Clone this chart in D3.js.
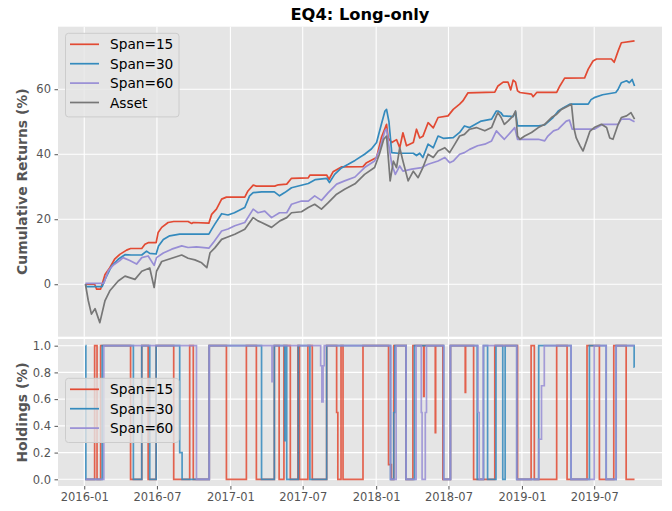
<!DOCTYPE html>
<html>
<head>
<meta charset="utf-8">
<script src="https://cdn.jsdelivr.net/npm/d3@7"></script>
<style>
  body { margin: 0; background: #fff; }
  svg { display: block; font-family: "DejaVu Sans", sans-serif; }
</style>
</head>
<body>
<div id="chart"></div>
<script>
// cumulative returns (%), [date, value]
const span15Returns = [
  ["2016-01-04",0],["2016-01-27",0],["2016-02-01",-1.5],["2016-02-11",-1.5],["2016-02-22",3],["2016-03-05",5.1],
  ["2016-03-17",7.7],["2016-03-30",9.2],["2016-04-16",10.5],["2016-04-26",11],["2016-05-24",11],["2016-06-01",12.3],
  ["2016-06-09",12.8],["2016-06-29",12.8],["2016-07-04",15.9],["2016-07-13",17.5],["2016-07-29",19],["2016-08-12",19.3],
  ["2016-09-17",19.3],["2016-09-26",18.7],["2016-09-30",19],["2016-11-08",18.8],["2016-11-15",21.5],["2016-11-27",23.1],
  ["2016-12-10",26.2],["2016-12-22",26.8],["2017-02-06",26.8],["2017-02-14",28.7],["2017-02-27",30.5],["2017-03-07",30.2],
  ["2017-04-22",30.2],["2017-05-01",30.6],["2017-05-22",30.8],["2017-06-03",32.6],["2017-07-15",32.7],["2017-07-19",33.6],
  ["2017-08-30",33.6],["2017-09-05",32.3],["2017-09-15",34.6],["2017-10-06",36.1],["2017-11-29",36.2],["2017-12-08",37.4],
  ["2018-01-02",39],["2018-01-14",45.1],["2018-01-27",49.2],["2018-01-31",45],["2018-02-09",43.6],["2018-02-21",44.5],
  ["2018-03-01",42],["2018-03-09",46.6],["2018-03-18",42.6],["2018-04-04",43.6],["2018-04-12",47.7],["2018-04-20",45],
  ["2018-04-28",45.5],["2018-05-11",49.7],["2018-05-24",48.1],["2018-06-05",51.3],["2018-06-30",51.8],["2018-07-13",53.8],
  ["2018-07-29",55.4],["2018-08-06",56.4],["2018-08-19",58.9],["2018-10-25",59.1],["2018-11-02",61],["2018-11-15",62.2],
  ["2018-11-27",62.2],["2018-12-04",59.8],["2018-12-10",62.8],["2018-12-16",62.2],["2018-12-21",59.5],["2018-12-27",59],
  ["2019-01-25",58.5],["2019-01-29",57.7],["2019-02-07",59],["2019-03-29",59],["2019-04-06",61],["2019-04-18",63.4],
  ["2019-06-07",63.5],["2019-06-16",66.2],["2019-06-28",68.7],["2019-07-07",69.3],["2019-08-13",69.3],["2019-08-20",68.3],
  ["2019-08-30",71.8],["2019-09-07",74.3],["2019-10-10",74.9]
];
const span30Returns = [
  ["2016-01-04",0],["2016-01-06",-0.7],["2016-02-15",-0.7],["2016-02-22",1.5],["2016-03-09",5.5],["2016-03-26",7.7],
  ["2016-04-12",9.1],["2016-04-28",9],["2016-05-24",9],["2016-06-05",10.2],["2016-06-13",9.5],["2016-06-29",9.3],
  ["2016-07-05",11.8],["2016-07-17",13.8],["2016-08-02",14.9],["2016-08-27",15.4],["2016-11-08",15.4],["2016-11-15",16.9],
  ["2016-11-23",18.5],["2016-12-10",21.7],["2016-12-26",21.3],["2017-01-11",22],["2017-02-06",23.6],["2017-02-18",27.2],
  ["2017-02-27",28.2],["2017-03-20",28.4],["2017-04-21",28.4],["2017-05-04",27.2],["2017-05-17",28.2],["2017-06-03",29.7],
  ["2017-07-15",31],["2017-08-02",32.2],["2017-08-30",32.6],["2017-09-06",31.3],["2017-09-19",33.8],["2017-10-06",35.8],
  ["2017-10-23",36.9],["2017-11-09",38.1],["2017-12-03",40],["2017-12-20",41.6],["2018-01-02",43.6],["2018-01-14",49.2],
  ["2018-01-23",53.3],["2018-01-27",53.8],["2018-02-02",50],["2018-02-09",40.5],["2018-02-25",40.3],["2018-04-04",40.3],
  ["2018-04-12",39.6],["2018-04-20",40.3],["2018-04-28",39],["2018-05-11",43.1],["2018-05-24",42],["2018-06-05",45.6],
  ["2018-06-18",44.9],["2018-07-13",45.1],["2018-07-29",46.7],["2018-08-10",48.7],["2018-08-23",48.2],["2018-09-21",50.2],
  ["2018-10-17",50.8],["2018-10-29",53.3],["2018-11-02",53.3],["2018-11-09",52.8],["2018-11-15",51.8],["2018-12-10",51.6],
  ["2018-12-16",53],["2018-12-21",48.7],["2019-02-11",48.7],["2019-02-27",49],["2019-03-20",51.3],["2019-04-02",53.3],
  ["2019-04-14",54.2],["2019-05-01",55.4],["2019-06-16",55.4],["2019-06-23",56.8],["2019-07-01",57.4],["2019-07-22",58.3],
  ["2019-08-24",59],["2019-08-30",60],["2019-09-07",62],["2019-09-20",62.6],["2019-09-27",62],["2019-10-04",63],
  ["2019-10-10",61]
];
const span60Returns = [
  ["2016-01-04",0.3],["2016-02-19",0.3],["2016-03-01",4.1],["2016-03-13",5.8],["2016-03-30",7.3],["2016-04-07",8.2],
  ["2016-04-24",7.3],["2016-05-11",6.2],["2016-05-24",8.2],["2016-06-09",8.7],["2016-06-24",5.8],["2016-06-30",8.2],
  ["2016-07-17",9.6],["2016-08-07",10.8],["2016-09-01",11.8],["2016-09-17",11.3],["2016-10-08",11.5],["2016-11-08",11.1],
  ["2016-11-19",12.8],["2016-12-10",16.4],["2016-12-26",17],["2017-01-12",18],["2017-02-06",19],["2017-02-27",23.1],
  ["2017-03-11",22],["2017-03-28",22.5],["2017-04-14",20.5],["2017-05-04",22],["2017-05-22",22],["2017-06-03",24.6],
  ["2017-06-28",25.6],["2017-07-15",25.6],["2017-07-31",27.2],["2017-08-17",25.8],["2017-09-03",28.2],["2017-09-24",30.8],
  ["2017-10-14",31.8],["2017-11-09",33],["2017-12-03",35.9],["2017-12-28",37.9],["2018-01-10",41.6],["2018-01-23",47.2],
  ["2018-01-27",47.7],["2018-02-02",42.5],["2018-02-09",36.9],["2018-02-18",33.8],["2018-03-01",36.4],["2018-03-09",34.8],
  ["2018-03-31",35.4],["2018-04-25",35.9],["2018-05-11",36.9],["2018-06-05",37.9],["2018-06-22",39],["2018-07-04",37.4],
  ["2018-07-13",37.9],["2018-07-29",40],["2018-08-10",40.5],["2018-08-23",41.5],["2018-09-12",42.6],["2018-09-30",43.1],
  ["2018-10-17",44.1],["2018-10-29",47.2],["2018-11-06",46.1],["2018-11-18",44.6],["2018-12-14",48.2],["2018-12-21",44.6],
  ["2019-02-11",44.6],["2019-02-27",44.1],["2019-03-07",45.6],["2019-03-21",47.2],["2019-04-02",47.7],["2019-04-10",48.7],
  ["2019-04-22",50.2],["2019-04-30",50.5],["2019-05-07",47.7],["2019-07-01",47.7],["2019-07-22",49.2],["2019-08-30",49.2],
  ["2019-09-07",50.8],["2019-09-28",50.8],["2019-10-10",50]
];
const assetReturns = [
  ["2016-01-04",0],["2016-01-11",-5],["2016-01-19",-9.2],["2016-01-28",-7.5],["2016-02-09",-11.8],["2016-02-22",-5],
  ["2016-03-05",-2],["2016-03-26",1],["2016-04-12",2.5],["2016-05-07",1.5],["2016-05-24",4],["2016-06-13",5],
  ["2016-06-24",-1],["2016-06-30",4],["2016-07-13",7],["2016-08-07",8],["2016-09-01",9],["2016-09-17",8],
  ["2016-10-04",7.5],["2016-10-21",6.6],["2016-11-03",5.1],["2016-11-11",9.7],["2016-11-23",11.2],["2016-12-10",13.8],
  ["2016-12-22",14.4],["2017-01-12",15.4],["2017-02-06",16.9],["2017-02-27",20.5],["2017-03-11",19.5],["2017-03-20",19],
  ["2017-04-14",17.5],["2017-05-05",19.5],["2017-05-22",20.5],["2017-06-03",22],["2017-06-28",22.3],["2017-07-15",23.6],
  ["2017-07-31",24.6],["2017-08-17",23.1],["2017-09-03",25.1],["2017-09-24",27.7],["2017-10-14",29.2],["2017-11-09",30.9],
  ["2017-12-03",33.8],["2017-12-28",35.9],["2018-01-09",40],["2018-01-20",44.6],["2018-01-27",45.6],["2018-02-05",31.8],
  ["2018-02-13",37.9],["2018-02-21",35.9],["2018-03-01",42],["2018-03-09",37.9],["2018-03-22",31.8],["2018-04-04",34.8],
  ["2018-04-16",32.8],["2018-04-28",35.9],["2018-05-11",40],["2018-05-24",39],["2018-06-05",41],["2018-06-22",42],
  ["2018-07-04",40.5],["2018-07-17",43.1],["2018-07-29",45.6],["2018-08-10",46.1],["2018-08-23",47.7],["2018-09-09",48.2],
  ["2018-09-30",47.2],["2018-10-17",48.2],["2018-10-29",51.8],["2018-11-02",52.8],["2018-11-10",51.3],["2018-11-18",49.2],
  ["2018-11-27",50.2],["2018-12-10",51.8],["2018-12-16",53.3],["2018-12-21",45.6],["2018-12-27",44.6],["2019-01-08",45.6],
  ["2019-01-25",46.7],["2019-02-11",48.2],["2019-02-27",49.2],["2019-03-16",51.3],["2019-03-29",52.3],["2019-04-10",53.8],
  ["2019-04-23",54.6],["2019-05-05",55.4],["2019-05-11",48.2],["2019-05-17",45],["2019-05-27",42.5],["2019-06-03",41],
  ["2019-06-12",44.1],["2019-06-20",47],["2019-07-01",48.2],["2019-07-19",49.2],["2019-08-01",48.2],["2019-08-09",45],
  ["2019-08-17",44.6],["2019-08-30",49.2],["2019-09-07",51.3],["2019-09-20",51.8],["2019-10-01",52.8],["2019-10-10",50.8]
];

// holdings: value held from that date until the next entry
const span15Holdings = [
  ["2016-01-04",0],["2016-01-27",1],["2016-02-02",0],["2016-02-11",1],["2016-04-26",0],["2016-05-24",1],
  ["2016-06-09",0],["2016-06-29",1],["2016-08-12",0],["2016-09-21",1],["2016-09-30",0],["2016-11-09",1],
  ["2016-12-22",0],["2017-02-10",1],["2017-03-07",0],["2017-04-21",1],["2017-05-03",0],["2017-05-15",1],
  ["2017-05-31",0],["2017-06-19",1],["2017-06-23",0],["2017-07-14",1],["2017-07-25",0],["2017-08-30",1],
  ["2017-09-24",0.5],["2017-09-27",0],["2017-10-05",1],["2017-10-10",0],["2017-11-29",1],["2018-02-01",0.11],
  ["2018-02-08",0],["2018-02-14",1],["2018-03-17",0],["2018-04-03",1],["2018-04-30",0.62],["2018-05-01",1],
  ["2018-05-29",0.35],["2018-05-30",1],["2018-06-17",0],["2018-07-06",1],["2018-08-12",0.65],["2018-08-13",1],
  ["2018-09-02",0],["2018-10-25",1],["2018-12-21",0],["2019-01-24",1],["2019-02-01",0],["2019-03-29",1],
  ["2019-04-24",0],["2019-06-13",1],["2019-07-14",0],["2019-08-19",1],["2019-09-19",0],["2019-10-10",0]
];
const span30Holdings = [
  ["2016-01-04",1],["2016-01-05",0],["2016-02-15",1],["2016-05-03",0],["2016-05-24",1],["2016-06-13",0],
  ["2016-06-29",1],["2016-08-27",0.2],["2016-09-02",0],["2016-11-09",1],["2017-03-20",0],["2017-04-21",1],
  ["2017-05-17",0.29],["2017-05-18",1],["2017-05-22",0],["2017-06-20",1],["2017-07-19",0],["2017-08-30",1],
  ["2018-02-06",0],["2018-02-14",0.5],["2018-02-17",1],["2018-03-17",0],["2018-04-07",1],["2018-06-19",0],
  ["2018-07-06",1],["2018-09-11",0],["2018-09-27",1],["2018-10-07",0],["2018-10-28",1],["2018-11-14",0],
  ["2018-11-20",1],["2018-12-19",0],["2019-02-12",1],["2019-05-04",0],["2019-06-19",1],["2019-07-31",0],
  ["2019-08-25",1],["2019-10-09",0.84],["2019-10-10",0.84]
];
const span60Holdings = [
  ["2016-01-04",0],["2016-02-19",1],["2016-10-08",0],["2016-11-09",1],["2017-04-15",0.73],["2017-04-16",1],
  ["2017-08-15",0.85],["2017-08-18",0.58],["2017-08-21",0.85],["2017-08-24",1],["2018-02-06",0],["2018-02-20",1],
  ["2018-03-17",0],["2018-04-11",1],["2018-04-24",0.5],["2018-04-26",0],["2018-05-04",0.5],["2018-05-07",1],
  ["2018-06-19",0],["2018-07-06",1],["2018-09-13",0.5],["2018-09-16",0],["2018-09-26",1],["2018-12-19",0],
  ["2019-02-12",0.3],["2019-02-19",0.7],["2019-02-26",1],["2019-05-04",0],["2019-07-01",1],["2019-07-31",0],
  ["2019-08-25",1],["2019-10-10",1]
];

const returnNames = ["Span=15", "Span=30", "Span=60", "Asset"];
const holdingNames = ["Span=15", "Span=30", "Span=60"];
const colors = ["#E24A33", "#348ABD", "#988ED5", "#777777"];
const returnTicks = [0, 20, 40, 60];
const holdingTicks = [0, 0.2, 0.4, 0.6, 0.8, 1.0];
const dateTicks = ["2016-01-01", "2016-07-01", "2017-01-01", "2017-07-01",
                   "2018-01-01", "2018-07-01", "2019-01-01", "2019-07-01"];

const parse = d3.timeParse("%Y-%m-%d");
const toPoints = arr => arr.map(([d, v]) => ({ date: parse(d), value: v }));

const returnSeries = [span15Returns, span30Returns, span60Returns, assetReturns].map(toPoints);
const holdingSeries = [span15Holdings, span30Holdings, span60Holdings].map(toPoints);

const width = 672, height = 511;
const left = 58, right = 662;
const top1 = 26.7, bottom1 = 336.7;
const top2 = 339, bottom2 = 486;
const fontSize = 11.5;

const svg = d3.select("#chart").append("svg")
    .attr("width", width)
    .attr("height", height);

// matplotlib style 5% margins
function padded(extent) {
    const span = extent[1] - extent[0];
    return [extent[0] - span * 0.05, extent[1] + span * 0.05];
}

const allDates = returnSeries.flat().map(d => d.date);
const dateExtent = d3.extent(allDates);
const x = d3.scaleTime()
    .domain(padded(dateExtent.map(Number)).map(t => new Date(t)))
    .range([left, right]);

const yTop = d3.scaleLinear()
    .domain(padded(d3.extent(returnSeries.flat(), d => d.value)))
    .range([bottom1, top1]);

const yBottom = d3.scaleLinear()
    .domain(padded(d3.extent(holdingSeries.flat(), d => d.value)))
    .range([bottom2, top2]);

const tickDates = dateTicks.map(parse);

function drawPanel(y, yTicks, yTop_, yBot, clipId, tickFormat) {
    const g = svg.append("g");
    g.append("rect")
        .attr("x", left).attr("y", yTop_)
        .attr("width", right - left).attr("height", yBot - yTop_)
        .attr("fill", "#E5E5E5");

    // grid
    g.selectAll(".vgrid").data(tickDates).enter().append("line")
        .attr("x1", d => x(d)).attr("x2", d => x(d))
        .attr("y1", yTop_).attr("y2", yBot)
        .attr("stroke", "#fff").attr("stroke-width", 1.1);
    g.selectAll(".hgrid").data(yTicks).enter().append("line")
        .attr("x1", left).attr("x2", right)
        .attr("y1", d => y(d)).attr("y2", d => y(d))
        .attr("stroke", "#fff").attr("stroke-width", 1.1);

    // y axis
    const axis = g.append("g")
        .attr("transform", `translate(${left},0)`)
        .call(d3.axisLeft(y).tickValues(yTicks).tickFormat(tickFormat).tickSize(3.5).tickPadding(3.5));
    axis.select(".domain").remove();
    axis.selectAll("line").attr("stroke", "#555");
    axis.selectAll("text").attr("fill", "#555")
        .style("font-size", fontSize + "px").style("font-family", "DejaVu Sans");

    svg.append("clipPath").attr("id", clipId)
        .append("rect").attr("x", left).attr("y", yTop_)
        .attr("width", right - left).attr("height", yBot - yTop_);
    return g;
}

function drawLegend(names, yTopBox, rowGap) {
    const boxH = names.length * rowGap + 6;
    const lg = svg.append("g");
    lg.append("rect")
        .attr("x", 65.5).attr("y", yTopBox)
        .attr("width", 113.5).attr("height", boxH)
        .attr("rx", 3)
        .attr("fill", "#E5E5E5").attr("fill-opacity", 0.8)
        .attr("stroke", "#CCCCCC").attr("stroke-width", 1);
    names.forEach((name, i) => {
        const cy = yTopBox + 11 + i * rowGap;
        lg.append("line")
            .attr("x1", 70).attr("x2", 99)
            .attr("y1", cy).attr("y2", cy)
            .attr("stroke", colors[i]).attr("stroke-width", 1.7);
        lg.append("text")
            .attr("x", 110).attr("y", cy + 5)
            .attr("fill", "#000")
            .style("font-size", "13.7px")
            .text(name);
    });
}

// top panel: cumulative returns
drawPanel(yTop, returnTicks, top1, bottom1, "clipTop", d3.format("d"));
const lineTop = d3.line().x(d => x(d.date)).y(d => yTop(d.value));
svg.append("g").attr("clip-path", "url(#clipTop)")
    .selectAll("path").data(returnSeries).enter().append("path")
    .attr("d", lineTop)
    .attr("fill", "none")
    .attr("stroke", (d, i) => colors[i])
    .attr("stroke-width", 1.7)
    .attr("stroke-linejoin", "round");

// bottom panel: holdings
const g2 = drawPanel(yBottom, holdingTicks, top2, bottom2, "clipBottom", d3.format(".1f"));
const lineBottom = d3.line().x(d => x(d.date)).y(d => yBottom(d.value)).curve(d3.curveStepAfter);
svg.append("g").attr("clip-path", "url(#clipBottom)")
    .selectAll("path").data(holdingSeries).enter().append("path")
    .attr("d", lineBottom)
    .attr("fill", "none")
    .attr("stroke", (d, i) => colors[i])
    .attr("stroke-width", 1.7)
    .attr("stroke-opacity", 0.85);

// x axis on the bottom panel
const xAxis = svg.append("g")
    .attr("transform", `translate(0,${bottom2})`)
    .call(d3.axisBottom(x).tickValues(tickDates).tickFormat(d3.timeFormat("%Y-%m")).tickSize(3.5).tickPadding(3.5));
xAxis.select(".domain").remove();
xAxis.selectAll("line").attr("stroke", "#555");
xAxis.selectAll("text").attr("fill", "#555")
    .style("font-size", fontSize + "px").style("font-family", "DejaVu Sans");

// legends
drawLegend(returnNames, 33.3, 19.4);
drawLegend(holdingNames, 378.3, 19.4);

// title and axis labels
svg.append("text")
    .attr("x", (left + right) / 2).attr("y", 20)
    .attr("text-anchor", "middle")
    .style("font-size", "16.3px").style("font-weight", "bold")
    .text("EQ4: Long-only");

svg.append("text")
    .attr("transform", `translate(27,${(top1 + bottom1) / 2}) rotate(-90)`)
    .attr("text-anchor", "middle")
    .attr("fill", "#555")
    .style("font-size", "13.9px").style("font-weight", "bold")
    .text("Cumulative Returns (%)");

svg.append("text")
    .attr("transform", `translate(27,${(top2 + bottom2) / 2}) rotate(-90)`)
    .attr("text-anchor", "middle")
    .attr("fill", "#555")
    .style("font-size", "13.9px").style("font-weight", "bold")
    .text("Holdings (%)");
</script>
</body>
</html>
